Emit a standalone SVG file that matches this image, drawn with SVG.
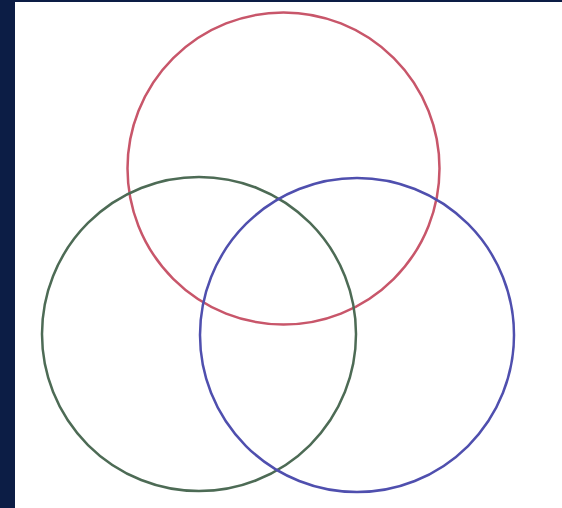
<svg xmlns="http://www.w3.org/2000/svg" width="562" height="508" viewBox="0 0 562 508">
<style>
.c{fill:none;stroke-width:2.5}
</style>
<rect x="0" y="0" width="562" height="508" fill="#ffffff"/>
<rect x="0" y="0" width="15" height="508" fill="#0c1d45"/>
<rect x="0" y="0" width="562" height="2" fill="#0c1d45"/>
<g id="red"><circle class="c" cx="283.5" cy="168.5" r="156" stroke="#c8566a"/></g>
<g id="green"><circle class="c" cx="199" cy="334" r="157" stroke="#4d6b55"/></g>
<g id="blue"><circle class="c" cx="357" cy="335" r="157" stroke="#4f4fae"/></g>
<g id="connectors"></g>
</svg>
